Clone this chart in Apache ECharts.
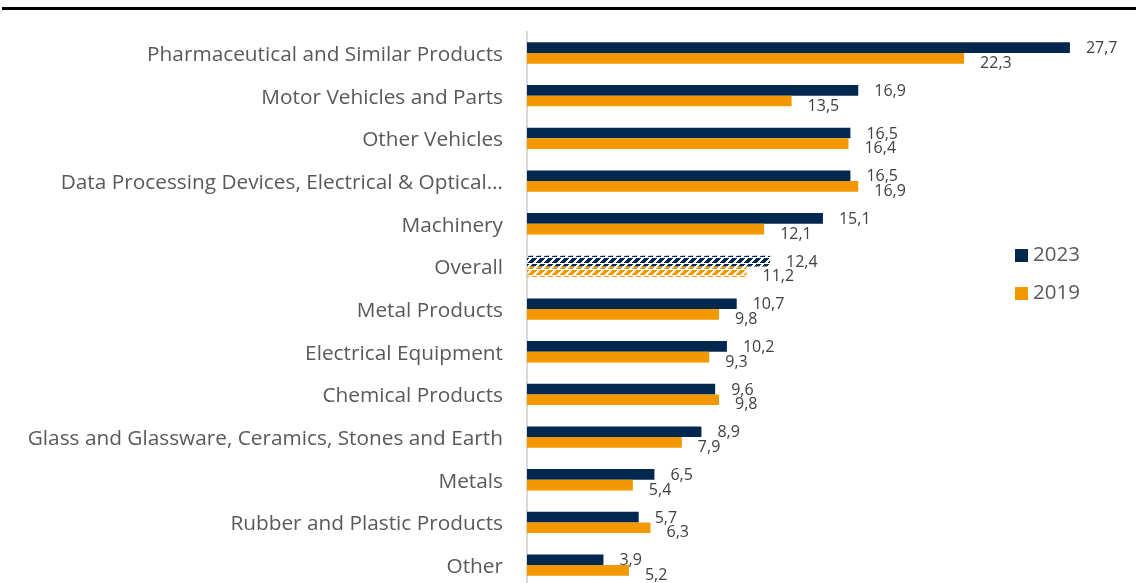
<!DOCTYPE html>
<html>
<head>
<meta charset="utf-8">
<script src="https://cdn.jsdelivr.net/npm/echarts@6/dist/echarts.min.js"></script>
<style>
  html, body { margin: 0; padding: 0; background: #ffffff; overflow: hidden; }
  /* the plot runs a few pixels past the bottom edge of the window */
  #chart { width: 1136px; height: 600px; }
</style>
</head>
<body>
<div id="chart"></div>
<script>
// Sectors, listed top to bottom
const categories = [
  'Pharmaceutical and Similar Products',
  'Motor Vehicles and Parts',
  'Other Vehicles',
  'Data Processing Devices, Electrical & Optical\u2026',
  'Machinery',
  'Overall',
  'Metal Products',
  'Electrical Equipment',
  'Chemical Products',
  'Glass and Glassware, Ceramics, Stones and Earth',
  'Metals',
  'Rubber and Plastic Products',
  'Other'
];
const values2023 = [27.7, 16.9, 16.5, 16.5, 15.1, 12.4, 10.7, 10.2, 9.6, 8.9, 6.5, 5.7, 3.9];
const values2019 = [22.3, 13.5, 16.4, 16.9, 12.1, 11.2, 9.8, 9.3, 9.8, 7.9, 5.4, 6.3, 5.2];
const highlighted = 'Overall';

const NAVY = '#03284F';
const ORANGE = '#F39800';
const FONT = 'Open Sans';

// Stepped diagonal hatch used for the "Overall" row
function hatch(color) {
  const c = document.createElement('canvas');
  c.width = 8; c.height = 6;
  const g = c.getContext('2d');
  g.fillStyle = color;
  for (let y = 0; y < 5; y++) {
    const shift = (4 - y + 8) % 8;
    for (let k = 0; k < 5; k++) {
      g.fillRect((shift + k) % 8, y, 1, 1);
    }
  }
  return { image: c, repeat: 'repeat' };
}

function seriesData(values, color) {
  return values.map((v, i) => categories[i] === highlighted
    ? { value: v, itemStyle: { color: hatch(color) } }
    : v);
}

const labelFmt = p => String(p.value).replace('.', ',');

const chart = echarts.init(document.getElementById('chart'), null, { renderer: 'canvas' });
chart.setOption({
  animation: false,
  textStyle: { fontFamily: FONT },
  grid: { left: 527, top: 31.7, width: 588, height: 554.7, containLabel: false },
  legend: {
    orient: 'vertical',
    left: 1010,
    top: 240,
    itemWidth: 13,
    itemHeight: 13,
    itemGap: 17,
    icon: 'rect',
    textStyle: { fontSize: 20.5, color: '#595959', fontFamily: FONT },
    data: ['2023', '2019']
  },
  xAxis: {
    type: 'value',
    min: 0,
    max: 30,
    show: false
  },
  yAxis: {
    type: 'category',
    inverse: true,
    data: categories,
    axisLine: { show: true, lineStyle: { color: '#D9D9D9', width: 2 } },
    axisTick: { show: false },
    axisLabel: {
      margin: 24,
      formatter: v => '{name|' + v + '}',
      rich: {
        name: {
          fontSize: 20.8, color: '#595959', fontFamily: FONT,
          lineHeight: 25, verticalAlign: 'bottom'
        }
      }
    }
  },
  series: [
    {
      name: '2023',
      type: 'bar',
      data: seriesData(values2023, NAVY),
      itemStyle: { color: NAVY },
      barGap: '0%',
      barCategoryGap: '50%',
      label: {
        show: true, position: 'right', distance: 16, offset: [0, 1],
        color: '#404040', fontSize: 16, fontFamily: FONT, formatter: labelFmt
      }
    },
    {
      name: '2019',
      type: 'bar',
      data: seriesData(values2019, ORANGE),
      itemStyle: { color: ORANGE },
      barGap: '0%',
      barCategoryGap: '50%',
      label: {
        show: true, position: 'right', distance: 16, offset: [0, 5],
        color: '#404040', fontSize: 16, fontFamily: FONT, formatter: labelFmt
      }
    }
  ],
  graphic: [
    {
      type: 'rect',
      shape: { x: 2, y: 7, width: 1134, height: 3 },
      style: { fill: '#000000' }
    }
  ]
});
</script>
</body>
</html>
